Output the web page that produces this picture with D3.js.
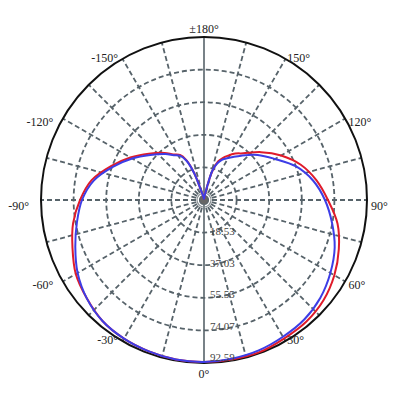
<!DOCTYPE html>
<html><head><meta charset="utf-8">
<script src="https://cdn.jsdelivr.net/npm/d3@7"></script>
<style>html,body{margin:0;padding:0;background:#fff;} svg{display:block;}
text{font-family:"Liberation Serif","Times New Roman",Times,"DejaVu Serif",serif;}</style>
</head><body>
<svg id="chart" width="400" height="400"></svg>
<script>
// Angles in degrees: 0 at bottom, positive to the right
const angles = [-180,-170,-164,-160,-156,-152,-146,-140,-130,-120,-110,-100,-90,-80,-70,-60,-50,-40,-30,-20,-10,0,10,20,30,40,50,60,70,80,90,100,110,120,130,140,146,152,156,160,164,170,180];
const seriesRed = [0.6,1.7,4.0,16.5,25.0,29.0,31.2,34.9,40.9,48.3,56.2,64.8,70.4,75.5,79.5,84.1,86.9,89.7,90.9,91.5,92.0,92.0,92.0,92.0,90.9,90.3,88.6,85.5,81.5,77.0,70.4,64.8,58.5,50.6,42.3,34.6,31.8,28.4,26.1,23.3,17.0,3.4,0.6];
const seriesBlue = [0.6,1.7,4.0,15.9,24.4,28.4,30.7,34.1,39.8,47.1,55.1,63.6,69.3,73.3,77.8,82.9,86.9,89.7,90.9,91.5,92.0,92.0,91.5,90.9,89.7,88.6,86.3,82.9,79.0,73.8,68.7,63.0,55.7,46.6,39.8,32.9,29.5,26.7,25.0,22.2,17.6,3.4,0.6];
const radialTicks = [18.53, 37.03, 55.55, 74.07, 92.59];
const radialTickLabels = ["18.53","37.03","55.55","74.07","92.59"];
const angleTicks = [-150,-120,-90,-60,-30,0,30,60,90,120,150,180];
const angleTickLabels = ["-150°","-120°","-90°","-60°","-30°","0°","30°","60°","90°","120°","150°","±180°"];
const spokeAngles = d3.range(-180, 180, 15);
const maxValue = 92.59;

const cx = 204, cy = 200, R = 163;
const svg = d3.select("#chart");
svg.append("rect").attr("width",400).attr("height",400).attr("fill","#fff");
const g = svg.append("g").attr("transform",`translate(${cx},${cy})`);
const r = d3.scaleLinear().domain([0, maxValue]).range([0, R]);
const toA = d => Math.PI - d*Math.PI/180; // lineRadial angle
const gridColor = "#57636a";

// dashed circles
g.selectAll("circle.grid").data(radialTicks.slice(0,-1)).enter().append("circle")
  .attr("r", d => r(d)).attr("fill","none").attr("stroke",gridColor)
  .attr("stroke-width",1.8).attr("stroke-dasharray","5,3");

// spokes
g.selectAll("line.spoke").data(spokeAngles).enter().append("line")
  .attr("x1",0).attr("y1",0)
  .attr("x2", d => R*Math.sin(d*Math.PI/180))
  .attr("y2", d => R*Math.cos(d*Math.PI/180))
  .attr("stroke",gridColor).attr("stroke-width", d => (d%180===0)?1.6:1.8)
  .attr("stroke-dasharray", d => (d%180===0)?null:"5,3");

// outer circle
g.append("circle").attr("r", r(maxValue)).attr("fill","none").attr("stroke","#111").attr("stroke-width",2);
// hub
g.append("circle").attr("r",4).attr("fill","#666");
g.append("circle").attr("r",7).attr("fill","none").attr("stroke","#8a9296").attr("stroke-width",1.2);

const line = d3.lineRadial().angle(d => toA(d[0])).radius(d => r(d[1])).curve(d3.curveCatmullRomClosed.alpha(0.5));
const redPts = angles.slice(0,-1).map((a,i)=>[a, seriesRed[i]]);
const bluePts = angles.slice(0,-1).map((a,i)=>[a, seriesBlue[i]]);
g.append("path").attr("d", line(redPts)).attr("fill","none").attr("stroke","#e01b2a").attr("stroke-width",2);
g.append("path").attr("d", line(bluePts)).attr("fill","none").attr("stroke","#3d3de6").attr("stroke-width",2);

// radial labels
g.selectAll("text.rl").data(radialTicks).enter().append("text")
  .attr("x",6).attr("y", d => r(d)*0.965).attr("dy","0.35em")
  .attr("font-size",11).attr("fill","#444")
  .text((d,i)=>radialTickLabels[i]);

// angle labels
angleTicks.forEach((a,i) => {
  const rad = a*Math.PI/180;
  const s = Math.sin(rad), c = Math.cos(rad);
  const px = R*s, py = R*c;
  const s2 = s*s;
  let x, y, anchor;
  if (Math.abs(a) === 180) { x = 0; y = py - 4; anchor = "middle"; }
  else if (a === 0) { x = 0; y = py + 15; anchor = "middle"; }
  else if (a > 0) { x = px + 1 + 3*s2; y = py + 1 + 9*s2; anchor = "start"; }
  else { x = px - 2 - 10*s2; y = py + 1 + 9*s2; anchor = "end"; }
  g.append("text").attr("x",x).attr("y",y).attr("text-anchor",anchor)
    .attr("font-size",12).attr("fill","#222")
    .text(angleTickLabels[i]);
});
</script>
</body></html>
